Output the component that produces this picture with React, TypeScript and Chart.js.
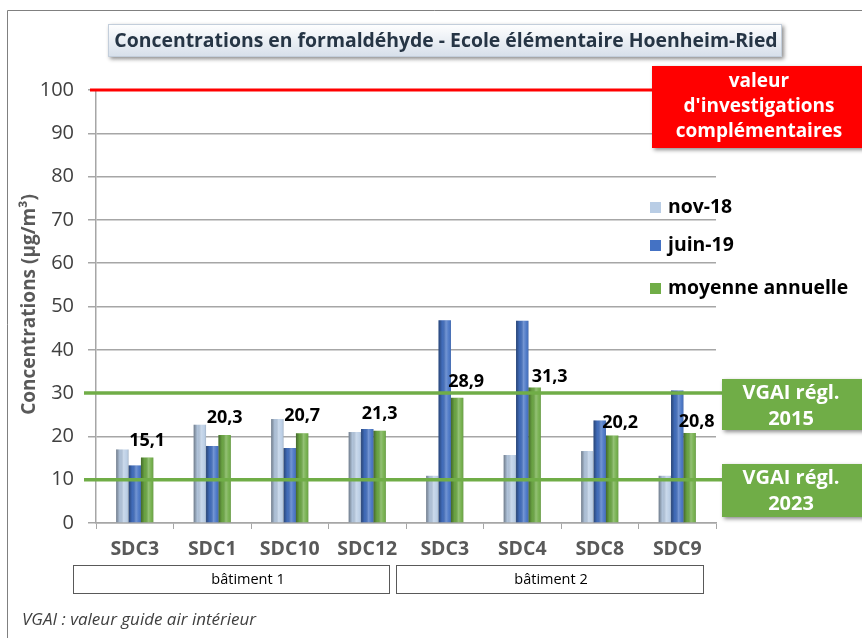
import React, { useEffect, useRef } from "react";
import { Chart, registerables } from "chart.js";

Chart.register(...registerables);

const categories = ["SDC3", "SDC1", "SDC10", "SDC12", "SDC3", "SDC4", "SDC8", "SDC9"];
const nov18 = [17.0, 22.7, 24.0, 21.0, 10.9, 15.7, 16.6, 10.9];
const juin19 = [13.3, 17.8, 17.3, 21.7, 46.8, 46.7, 23.7, 30.6];
const moyenne = [15.1, 20.3, 20.7, 21.3, 28.9, 31.3, 20.2, 20.8];
const seriesNames = ["nov-18", "juin-19", "moyenne annuelle"];
const yTicksMax = 100;
const yTickStep = 10;
const thresholdRed = 100;
const thresholdsGreen = [30, 10];
const buildings = [
  { label: "bâtiment 1", from: 0, to: 3 },
  { label: "bâtiment 2", from: 4, to: 7 },
];

const COLORS = ["#b9cde5", "#4472c4", "#70ad47"];
const FONT = "'Open Sans', 'DejaVu Sans', sans-serif";
const labelDx = [0, 0, 0, 0, 9, 15, 8, 7];
const labelDy = [17, 17, 17, 17, 16, 11, 13, 11];

function fmt(v: number) {
  return v.toFixed(1).replace(".", ",");
}

function shadowRect(ctx: CanvasRenderingContext2D, x: number, y: number, w: number, h: number, fill: string | CanvasGradient) {
  ctx.save();
  ctx.shadowColor = "rgba(0,0,0,0.45)";
  ctx.shadowBlur = 4;
  ctx.shadowOffsetX = 2;
  ctx.shadowOffsetY = 2;
  ctx.fillStyle = fill;
  ctx.fillRect(x, y, w, h);
  ctx.restore();
}

const decorPlugin = {
  id: "decor",
  beforeDraw(chart: any) {
    const ctx = chart.ctx as CanvasRenderingContext2D;
    ctx.save();
    ctx.fillStyle = "#ffffff";
    ctx.fillRect(0, 0, chart.width, chart.height);
    ctx.strokeStyle = "#808080";
    ctx.lineWidth = 1;
    ctx.beginPath();
    ctx.moveTo(7.5, chart.height);
    ctx.lineTo(7.5, 10.5);
    ctx.lineTo(chart.width, 10.5);
    ctx.stroke();
    ctx.restore();
  },
  afterDatasetsDraw(chart: any) {
    const ctx = chart.ctx as CanvasRenderingContext2D;
    const y = chart.scales.y;
    const area = chart.chartArea;
    chart.data.datasets.forEach((ds: any, di: number) => {
      const meta = chart.getDatasetMeta(di);
      meta.data.forEach((bar: any) => {
        const left = bar.x - bar.width / 2;
        const w = bar.width;
        const g = ctx.createLinearGradient(left, 0, left + w, 0);
        g.addColorStop(0, "rgba(0,0,0,0.4)");
        g.addColorStop(0.3, "rgba(0,0,0,0.05)");
        g.addColorStop(0.6, "rgba(255,255,255,0.25)");
        g.addColorStop(0.85, "rgba(255,255,255,0.05)");
        g.addColorStop(1, "rgba(0,0,0,0.15)");
        ctx.save();
        ctx.fillStyle = g;
        ctx.fillRect(left, bar.y, w, bar.base - bar.y);
        ctx.restore();
      });
    });
    ctx.save();
    ctx.lineWidth = 3;
    ctx.strokeStyle = "#ff0000";
    const ry = y.getPixelForValue(thresholdRed);
    ctx.beginPath();
    ctx.moveTo(area.left - 6, ry);
    ctx.lineTo(652, ry);
    ctx.stroke();
    ctx.strokeStyle = "#70ad47";
    ctx.lineWidth = 3.5;
    thresholdsGreen.forEach((v) => {
      const gy = y.getPixelForValue(v);
      ctx.beginPath();
      ctx.moveTo(area.left - 12, gy);
      ctx.lineTo(722, gy);
      ctx.stroke();
    });
    ctx.restore();
    const meta = chart.getDatasetMeta(2);
    ctx.save();
    ctx.fillStyle = "#000000";
    ctx.font = `bold 18px ${FONT}`;
    ctx.textAlign = "center";
    ctx.textBaseline = "middle";
    meta.data.forEach((bar: any, i: number) => {
      ctx.fillText(fmt(moyenne[i]), bar.x + labelDx[i], bar.y - labelDy[i]);
    });
    ctx.restore();
  },
  afterDraw(chart: any) {
    const ctx = chart.ctx as CanvasRenderingContext2D;
    const x = chart.scales.x;
    const area = chart.chartArea;

    const tg = ctx.createLinearGradient(0, 24, 0, 57);
    tg.addColorStop(0, "#ffffff");
    tg.addColorStop(1, "#d6dfea");
    shadowRect(ctx, 108, 24, 674, 33, tg);
    ctx.save();
    ctx.strokeStyle = "#c3cedb";
    ctx.lineWidth = 1;
    ctx.strokeRect(108.5, 24.5, 673, 32);
    ctx.fillStyle = "#263545";
    ctx.font = `bold 19.4px ${FONT}`;
    ctx.textAlign = "center";
    ctx.textBaseline = "middle";
    ctx.fillText("Concentrations en formaldéhyde - Ecole élémentaire Hoenheim-Ried", 446, 41);
    ctx.restore();

    ctx.save();
    ctx.translate(30, (area.top + area.bottom) / 2 - 2);
    ctx.rotate(-Math.PI / 2);
    ctx.fillStyle = "#595959";
    ctx.font = `bold 19px ${FONT}`;
    ctx.textAlign = "center";
    ctx.textBaseline = "middle";
    ctx.fillText("Concentrations (µg/m³)", 0, 0);
    ctx.restore();

    shadowRect(ctx, 652, 66, 215, 82, "#ff0000");
    ctx.save();
    ctx.fillStyle = "#ffffff";
    ctx.font = `bold 19px ${FONT}`;
    ctx.textAlign = "center";
    ctx.textBaseline = "middle";
    ctx.fillText("valeur", 759, 82);
    ctx.fillText("d'investigations", 759, 107);
    ctx.fillText("complémentaires", 759, 132);
    ctx.restore();

    const gBoxes = [
      { y: 379, h: 51, t: ["VGAI régl.", "2015"] },
      { y: 464, h: 53, t: ["VGAI régl.", "2023"] },
    ];
    gBoxes.forEach((b) => {
      shadowRect(ctx, 722, b.y, 145, b.h, "#70ad47");
      ctx.save();
      ctx.fillStyle = "#ffffff";
      ctx.font = `bold 20px ${FONT}`;
      ctx.textAlign = "center";
      ctx.textBaseline = "middle";
      ctx.fillText(b.t[0], 791, b.y + 14);
      ctx.fillText(b.t[1], 791, b.y + 40);
      ctx.restore();
    });

    const legY = [207, 245, 288];
    ctx.save();
    ctx.font = `bold 19.4px ${FONT}`;
    ctx.textBaseline = "middle";
    ctx.textAlign = "left";
    chart.data.datasets.forEach((ds: any, i: number) => {
      ctx.fillStyle = COLORS[i];
      ctx.fillRect(650, legY[i] - 5, 11, 11);
      ctx.fillStyle = "#000000";
      ctx.fillText(ds.label, 668, legY[i]);
    });
    ctx.restore();

    ctx.save();
    ctx.strokeStyle = "#595959";
    ctx.lineWidth = 1;
    ctx.fillStyle = "#000000";
    ctx.font = `14.5px ${FONT}`;
    ctx.textAlign = "center";
    ctx.textBaseline = "middle";
    const bx = [
      [73, 389],
      [396, 703],
    ];
    buildings.forEach((b, i) => {
      const l = bx[i][0];
      const r = bx[i][1];
      ctx.strokeRect(l + 0.5, 565.5, r - l, 28);
      const cx = (x.getPixelForValue(b.from) + x.getPixelForValue(b.to)) / 2;
      ctx.fillText(b.label, i === 0 ? cx - 3 : cx - 10, 580);
    });
    ctx.restore();

    ctx.save();
    ctx.fillStyle = "#404040";
    ctx.font = `italic 17px ${FONT}`;
    ctx.textAlign = "left";
    ctx.textBaseline = "middle";
    ctx.fillText("VGAI : valeur guide air intérieur", 22, 620);
    ctx.restore();
  },
};

export default function App() {
  const ref = useRef<HTMLCanvasElement | null>(null);
  useEffect(() => {
    if (!ref.current) return;
    const chart = new Chart(ref.current, {
      type: "bar",
      data: {
        labels: categories,
        datasets: [
          { label: seriesNames[0], data: nov18, backgroundColor: COLORS[0] },
          { label: seriesNames[1], data: juin19, backgroundColor: COLORS[1] },
          { label: seriesNames[2], data: moyenne, backgroundColor: COLORS[2] },
        ],
      },
      options: {
        responsive: false,
        animation: false,
        devicePixelRatio: 1,
        layout: { padding: { left: 0, right: 146, top: 90, bottom: 0 } },
        datasets: { bar: { barPercentage: 1, categoryPercentage: 0.48 } },
        plugins: { legend: { display: false }, tooltip: { enabled: false } },
        scales: {
          y: {
            min: 0,
            max: yTicksMax,
            ticks: { stepSize: yTickStep, color: "#404040", font: { family: FONT, size: 20 }, padding: 14 },
            grid: { color: "#a6a6a6", lineWidth: 1.5, tickLength: 8 },
            border: { color: "#a6a6a6", width: 1.5 },
            afterFit: (s: any) => {
              s.width = 96;
            },
          },
          x: {
            ticks: { color: "#595959", font: { family: FONT, size: 19.5, weight: "bold" }, padding: 9 },
            grid: { drawOnChartArea: false, color: "#a6a6a6", tickLength: 6, offset: true },
            border: { color: "#a6a6a6", width: 1.5 },
            afterFit: (s: any) => {
              s.height = 115;
            },
          },
        },
      },
      plugins: [decorPlugin],
    } as any);
    return () => chart.destroy();
  }, []);
  return (
    <div style={{ position: "fixed", left: 0, top: 0, width: 862, height: 638, background: "#fff" }}>
      <canvas ref={ref} width={862} height={638} style={{ display: "block" }} />
    </div>
  );
}
